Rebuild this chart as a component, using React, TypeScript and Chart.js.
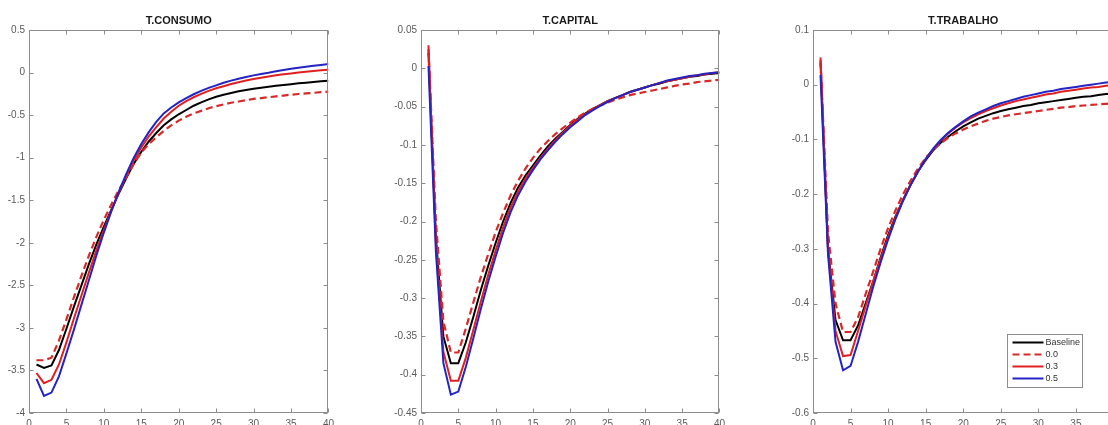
import React, { useEffect, useRef } from 'react';
import { Chart, registerables } from 'chart.js';

Chart.register(...registerables);

const FONT = 'Arial, "Liberation Sans", Helvetica, sans-serif';

// ---- data ----
const periods = [1, 2, 3, 4, 5, 6, 7, 8, 9, 10, 11, 12, 13, 14, 15, 16, 17, 18, 19, 20, 21, 22, 23, 24, 25, 26, 27, 28, 29, 30, 31, 32, 33, 34, 35, 36, 37, 38, 39, 40];
const seriesNames = ['Baseline', '0.0', '0.3', '0.5'];
const xTicks = [0, 5, 10, 15, 20, 25, 30, 35, 40];

const consumoTitle = 'T.CONSUMO';
const consumoBaseline = [-3.43, -3.47, -3.44, -3.26, -3.01, -2.75, -2.5, -2.25, -2.02, -1.81, -1.61, -1.42, -1.24, -1.07, -0.93, -0.81, -0.71, -0.62, -0.55, -0.49, -0.44, -0.39, -0.35, -0.315, -0.285, -0.26, -0.24, -0.22, -0.205, -0.19, -0.178, -0.166, -0.155, -0.145, -0.136, -0.127, -0.119, -0.111, -0.103, -0.095];
const consumo00 = [-3.38, -3.38, -3.35, -3.15, -2.9, -2.64, -2.39, -2.15, -1.93, -1.73, -1.55, -1.38, -1.23, -1.07, -0.94, -0.84, -0.76, -0.685, -0.62, -0.565, -0.52, -0.48, -0.45, -0.42, -0.395, -0.375, -0.355, -0.34, -0.325, -0.31, -0.3, -0.29, -0.28, -0.27, -0.26, -0.252, -0.245, -0.238, -0.231, -0.225];
const consumo03 = [-3.53, -3.65, -3.61, -3.43, -3.17, -2.89, -2.62, -2.35, -2.09, -1.85, -1.62, -1.41, -1.21, -1.03, -0.88, -0.75, -0.64, -0.54, -0.46, -0.39, -0.335, -0.29, -0.25, -0.215, -0.185, -0.16, -0.135, -0.113, -0.093, -0.075, -0.06, -0.046, -0.033, -0.021, -0.01, 0.0, 0.009, 0.018, 0.026, 0.034];
const consumo05 = [-3.6, -3.8, -3.76, -3.57, -3.3, -3.02, -2.73, -2.44, -2.15, -1.88, -1.63, -1.4, -1.19, -1.0, -0.84, -0.7, -0.58, -0.48, -0.41, -0.35, -0.3, -0.255, -0.215, -0.18, -0.15, -0.12, -0.095, -0.072, -0.052, -0.033, -0.017, -0.003, 0.015, 0.03, 0.045, 0.057, 0.068, 0.079, 0.09, 0.1];

const capitalTitle = 'T.CAPITAL';
const capitalBaseline = [0.02, -0.22, -0.35, -0.385, -0.385, -0.358, -0.325, -0.29, -0.258, -0.228, -0.2, -0.176, -0.156, -0.14, -0.127, -0.114, -0.102, -0.092, -0.083, -0.074, -0.066, -0.059, -0.053, -0.048, -0.043, -0.039, -0.035, -0.031, -0.028, -0.025, -0.022, -0.02, -0.017, -0.015, -0.013, -0.011, -0.01, -0.008, -0.007, -0.006];
const capital00 = [0.025, -0.2, -0.33, -0.371, -0.371, -0.34, -0.306, -0.273, -0.243, -0.214, -0.189, -0.166, -0.147, -0.131, -0.117, -0.105, -0.095, -0.086, -0.078, -0.071, -0.064, -0.058, -0.053, -0.049, -0.045, -0.041, -0.038, -0.035, -0.033, -0.031, -0.029, -0.027, -0.025, -0.023, -0.021, -0.02, -0.018, -0.017, -0.016, -0.015];
const capital03 = [0.03, -0.23, -0.37, -0.408, -0.408, -0.378, -0.342, -0.305, -0.27, -0.238, -0.208, -0.182, -0.161, -0.144, -0.13, -0.117, -0.105, -0.094, -0.084, -0.075, -0.067, -0.06, -0.054, -0.048, -0.043, -0.039, -0.035, -0.031, -0.028, -0.025, -0.022, -0.019, -0.017, -0.015, -0.013, -0.011, -0.009, -0.008, -0.006, -0.005];
const capital05 = [0.003, -0.24, -0.385, -0.426, -0.422, -0.39, -0.353, -0.315, -0.279, -0.246, -0.215, -0.188, -0.166, -0.148, -0.133, -0.119, -0.107, -0.096, -0.086, -0.077, -0.069, -0.061, -0.055, -0.049, -0.044, -0.039, -0.035, -0.031, -0.028, -0.025, -0.022, -0.019, -0.016, -0.014, -0.012, -0.01, -0.009, -0.007, -0.006, -0.005];

const trabalhoTitle = 'T.TRABALHO';
const trabalhoBaseline = [0.04, -0.3, -0.43, -0.467, -0.467, -0.44, -0.4, -0.36, -0.316, -0.275, -0.24, -0.21, -0.183, -0.158, -0.138, -0.12, -0.106, -0.095, -0.085, -0.076, -0.069, -0.062, -0.057, -0.052, -0.048, -0.045, -0.042, -0.039, -0.037, -0.034, -0.032, -0.03, -0.028, -0.026, -0.024, -0.022, -0.021, -0.019, -0.017, -0.016];
const trabalho00 = [0.045, -0.27, -0.4, -0.452, -0.452, -0.425, -0.383, -0.342, -0.3, -0.262, -0.229, -0.2, -0.175, -0.153, -0.134, -0.119, -0.107, -0.097, -0.089, -0.082, -0.076, -0.071, -0.066, -0.062, -0.059, -0.056, -0.054, -0.052, -0.05, -0.048, -0.046, -0.044, -0.042, -0.041, -0.039, -0.038, -0.037, -0.036, -0.035, -0.034];
const trabalho03 = [0.05, -0.3, -0.45, -0.496, -0.494, -0.45, -0.405, -0.36, -0.318, -0.278, -0.242, -0.21, -0.182, -0.158, -0.136, -0.118, -0.102, -0.089, -0.078, -0.069, -0.061, -0.054, -0.048, -0.043, -0.038, -0.034, -0.03, -0.027, -0.024, -0.021, -0.018, -0.016, -0.013, -0.011, -0.009, -0.007, -0.005, -0.004, -0.002, -0.001];
const trabalho05 = [0.018, -0.31, -0.47, -0.522, -0.514, -0.47, -0.42, -0.37, -0.325, -0.283, -0.245, -0.212, -0.183, -0.158, -0.136, -0.117, -0.101, -0.088, -0.077, -0.067, -0.058, -0.051, -0.045, -0.039, -0.034, -0.03, -0.026, -0.022, -0.019, -0.016, -0.013, -0.011, -0.008, -0.006, -0.004, -0.002, 0.0, 0.002, 0.004, 0.005];

// ---- styles ----
const COLORS = ['#000000', '#d62a2a', '#e02020', '#2424c4'];
const DASHES = [[], [7, 4], [], []];
const WIDTHS = [2, 2.2, 2, 2];
const ORDERS = [4, 3, 2, 1];
const AXIS_COLOR = '#8c8c8c';
const LABEL_COLOR = '#5a5a5a';

type PanelProps = {
  title: string;
  series: number[][];
  yMin: number;
  yMax: number;
  yStep: number;
  left: number;
  width: number;
  legend?: boolean;
};

function fmt(v: number) {
  const r = Math.round(v * 1000) / 1000;
  return String(r === 0 ? 0 : r);
}

function Panel({ title, series, yMin, yMax, yStep, left, width, legend }: PanelProps) {
  const ref = useRef<HTMLCanvasElement | null>(null);
  useEffect(() => {
    if (!ref.current) return;
    const deco = {
      id: 'matlabDeco',
      afterDraw(chart: any) {
        const ctx = chart.ctx;
        const ca = chart.chartArea;
        const xs = chart.scales.x;
        const ys = chart.scales.y;
        ctx.save();
        ctx.strokeStyle = AXIS_COLOR;
        ctx.lineWidth = 1;
        ctx.setLineDash([]);
        const L = Math.round(ca.left) + 0.5;
        const R = Math.round(ca.right) - 0.5;
        const T = Math.round(ca.top) + 0.5;
        const B = Math.round(ca.bottom) - 0.5;
        ctx.strokeRect(L, T, R - L, B - T);
        const tl = 4;
        ctx.beginPath();
        xs.ticks.forEach((t: any) => {
          const px = Math.round(xs.getPixelForValue(t.value)) + 0.5;
          ctx.moveTo(px, B);
          ctx.lineTo(px, B - tl);
          ctx.moveTo(px, T);
          ctx.lineTo(px, T + tl);
        });
        ys.ticks.forEach((t: any) => {
          const py = Math.round(ys.getPixelForValue(t.value)) + 0.5;
          ctx.moveTo(L, py);
          ctx.lineTo(L + tl, py);
          ctx.moveTo(R, py);
          ctx.lineTo(R - tl, py);
        });
        ctx.stroke();
        // title
        ctx.fillStyle = '#1a1a1a';
        ctx.font = 'bold 11px ' + FONT;
        ctx.textAlign = 'center';
        ctx.textBaseline = 'middle';
        ctx.fillText(title, (ca.left + ca.right) / 2, 21);
        // legend
        if (legend) {
          const bx = Math.round(ca.left) + 194.5;
          const by = 334.5;
          const bw = 75;
          const bh = 53;
          ctx.fillStyle = '#ffffff';
          ctx.fillRect(bx, by, bw, bh);
          ctx.strokeStyle = '#8c8c8c';
          ctx.lineWidth = 1;
          ctx.strokeRect(bx, by, bw, bh);
          seriesNames.forEach((name, i) => {
            const yy = by + 8 + i * 12;
            ctx.beginPath();
            ctx.strokeStyle = COLORS[i];
            ctx.lineWidth = WIDTHS[i];
            ctx.setLineDash(DASHES[i]);
            ctx.moveTo(bx + 5, yy);
            ctx.lineTo(bx + 36, yy);
            ctx.stroke();
            ctx.setLineDash([]);
            ctx.fillStyle = '#333333';
            ctx.font = '9px ' + FONT;
            ctx.textAlign = 'left';
            ctx.textBaseline = 'middle';
            ctx.fillText(name, bx + 38, yy + 0.5);
          });
        }
        ctx.restore();
      },
    };
    const chart = new Chart(ref.current, {
      type: 'line',
      data: {
        datasets: series.map((vals, i) => ({
          label: seriesNames[i],
          data: vals.map((v, k) => ({ x: periods[k], y: v })),
          borderColor: COLORS[i],
          borderWidth: WIDTHS[i],
          borderDash: DASHES[i],
          pointRadius: 0,
          tension: 0,
          fill: false,
          order: ORDERS[i],
        })),
      },
      options: {
        responsive: false,
        animation: false,
        layout: { padding: { top: 30, right: 8, left: 0, bottom: 0 } },
        plugins: {
          legend: { display: false },
          tooltip: { enabled: false },
          title: { display: false },
        },
        scales: {
          x: {
            type: 'linear',
            min: 0,
            max: 40,
            afterFit: (s: any) => {
              s.height = 12;
            },
            afterBuildTicks: (s: any) => {
              s.ticks = xTicks.map((v) => ({ value: v }));
            },
            grid: { display: false, drawTicks: false },
            border: { display: false },
            ticks: {
              padding: 5,
              color: LABEL_COLOR,
              font: { family: FONT, size: 10 },
              maxRotation: 0,
              autoSkip: false,
              callback: (v: any) => fmt(Number(v)),
            },
          },
          y: {
            type: 'linear',
            min: yMin,
            max: yMax,
            afterFit: (s: any) => {
              s.width = 29;
            },
            grid: { display: false, drawTicks: false },
            border: { display: false },
            ticks: {
              stepSize: yStep,
              padding: 4,
              color: LABEL_COLOR,
              font: { family: FONT, size: 10 },
              autoSkip: false,
              callback: (v: any) => fmt(Number(v)),
            },
          },
        },
      },
      plugins: [deco],
    } as any);
    return () => chart.destroy();
  }, []);
  return (
    <canvas
      ref={ref}
      width={width}
      height={425}
      style={{ position: 'absolute', left, top: 0, width, height: 425 }}
    />
  );
}

export default function App() {
  return (
    <div
      style={{
        position: 'absolute',
        left: 0,
        top: 0,
        width: 1108,
        height: 425,
        overflow: 'hidden',
        background: '#ffffff',
      }}
    >
      <Panel
        title={consumoTitle}
        series={[consumoBaseline, consumo00, consumo03, consumo05]}
        yMin={-4}
        yMax={0.5}
        yStep={0.5}
        left={0}
        width={339}
      />
      <Panel
        title={capitalTitle}
        series={[capitalBaseline, capital00, capital03, capital05]}
        yMin={-0.45}
        yMax={0.05}
        yStep={0.05}
        left={392}
        width={338}
      />
      <Panel
        title={trabalhoTitle}
        series={[trabalhoBaseline, trabalho00, trabalho03, trabalho05]}
        yMin={-0.6}
        yMax={0.1}
        yStep={0.1}
        left={784}
        width={340}
        legend
      />
    </div>
  );
}
